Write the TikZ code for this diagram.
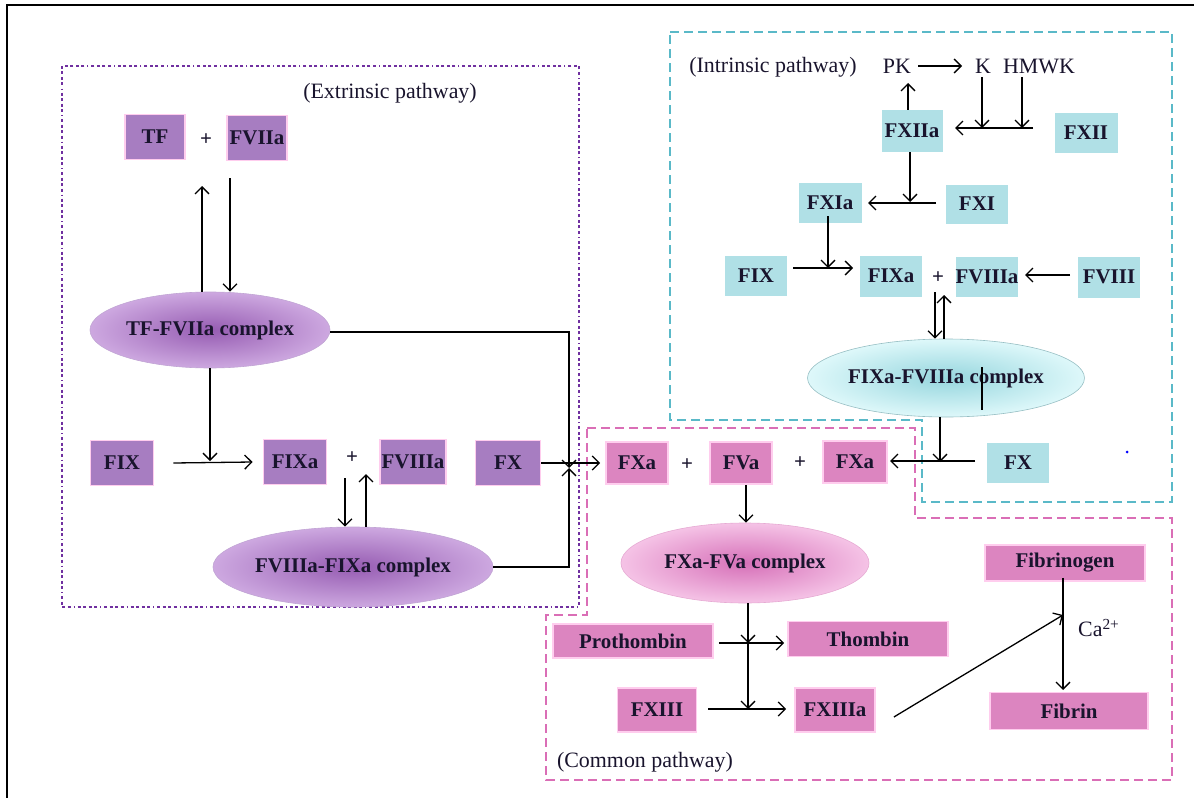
\documentclass[tikz,border=0pt]{standalone}
\usepackage{fontspec}
\setmainfont{Liberation Serif}
\usetikzlibrary{arrows.meta,shapes.geometric}
\definecolor{pfill}{RGB}{167,125,193}
\definecolor{mfill}{RGB}{220,133,192}
\definecolor{tfill}{RGB}{176,224,230}
\definecolor{glow}{RGB}{255,205,238}
\definecolor{extc}{RGB}{112,48,160}
\definecolor{intc}{RGB}{90,185,200}
\definecolor{comc}{RGB}{218,110,182}
\definecolor{txt}{RGB}{25,20,45}
\definecolor{pin}{RGB}{150,92,178}
\definecolor{pout}{RGB}{205,168,224}
\definecolor{min}{RGB}{214,112,184}
\definecolor{mout}{RGB}{245,195,230}
\definecolor{tin}{RGB}{150,214,222}
\definecolor{tout}{RGB}{222,248,250}
\tikzset{
  bx/.style={rectangle, inner sep=0pt, text=txt, font=\fontsize{21}{24}\selectfont\bfseries},
  pbox/.style={bx, fill=pfill, draw=glow, line width=1.8bp},
  mbox/.style={bx, fill=mfill, draw=glow, line width=1.8bp},
  tbox/.style={bx, fill=tfill},
  lbl/.style={inner sep=0pt, text=txt, font=\fontsize{22}{26}\selectfont},
  plus/.style={inner sep=0pt, text=txt, font=\fontsize{21}{22}\selectfont\bfseries},
  cplx/.style={ellipse, inner sep=0pt, text=txt, font=\fontsize{21}{24}\selectfont\bfseries},
  pcplx/.style={cplx, inner color=pin, outer color=pout, draw=pfill!70, line width=0.6bp},
  mcplx/.style={cplx, inner color=min, outer color=mout, draw=mfill!70, line width=0.6bp},
  tcplx/.style={cplx, inner color=tin, outer color=tout, draw=tfill!85!black, line width=0.6bp},
  conn/.style={line width=1.3bp, draw=black},
  arr/.style={conn, -{Straight Barb[length=7bp,width=14bp,line width=1.3bp]}},
  extbox/.style={draw=extc, line width=1.6bp, dash pattern=on 3bp off 2.5bp on 3bp off 2.5bp on 3bp off 2.5bp on 3bp off 3bp on 1bp off 3bp},
  intbox/.style={draw=intc, line width=1.3bp, dash pattern=on 9bp off 5bp},
  combox/.style={draw=comc, line width=1.3bp, dash pattern=on 9bp off 5bp},
}
\begin{document}
\begin{tikzpicture}[x=1bp,y=-1bp]
\useasboundingbox (0,0) rectangle (1194,798);
\draw[line width=1.5bp] (7,798) -- (7,5) -- (1194,5);

% ---------------- region outlines
\draw[extbox] (62,66) rectangle (579,607);
\draw[intbox] (670,32) -- (1172,32) -- (1172,502) -- (922,502) -- (922,420) -- (670,420) -- cycle;
\draw[combox] (587,428) -- (915,428) -- (915,518) -- (1172,518) -- (1172,780) -- (546,780) -- (546,615) -- (587,615) -- cycle;

% ---------------- extrinsic pathway
\node[lbl] (extl) at (390,93) {(Extrinsic pathway)};
\node[pbox, minimum width=60bp, minimum height=45bp] (TF) at (155,137) {TF};
\node[plus] (p1) at (206,140) {+};
\node[pbox, minimum width=60bp, minimum height=45bp] (FVIIa) at (257,138) {FVIIa};
\node[pcplx, minimum width=240bp, minimum height=76bp] (tfc) at (210,330) {TF-FVIIa complex};
\node[pbox, minimum width=63bp, minimum height=45bp] (FIX) at (122,463) {FIX};
\node[pbox, minimum width=63bp, minimum height=45bp] (FIXa) at (295,462) {FIXa};
\node[plus] (p2) at (352,458) {+};
\node[pbox, minimum width=66bp, minimum height=45bp] (FVIIIa) at (413,462) {FVIIIa};
\node[pbox, minimum width=65bp, minimum height=45bp] (FX) at (508,463) {FX};
\node[pcplx, minimum width=280bp, minimum height=80bp] (fvc) at (353,567) {FVIIIa-FIXa complex};

\coordinate (e1) at (202,186);
\coordinate (e2) at (230,178);
\coordinate (e3) at (210,461);
\coordinate (e4) at (569,468);
\coordinate (e5) at (345,478);
\coordinate (e6) at (366,474);
\draw[arr] (tfc.north -| e1) -- (e1);
\draw[arr] (e2) -- (tfc.north -| e2);
\draw[arr] (tfc.south) -- (e3);
\draw[arr] (FIX.east) ++(19,0) -- ([xshift=-10bp]FIXa.west);
\draw[arr] (e5) -- (fvc.north -| e5);
\draw[arr] (fvc.north -| e6) -- (e6);
\draw[arr] (tfc.east |- 0,332) -- (569,332) -- (e4);
\draw[arr] (fvc.east) -- (569,567) -- (e4);

% ---------------- intrinsic pathway
\node[lbl] (intl) at (773,67) {(Intrinsic pathway)};
\node[lbl] (PK) at (897,66) {PK};
\node[lbl] (K) at (983,66) {K};
\node[lbl] (HMWK) at (1039,66) {HMWK};
\node[tbox, minimum width=61bp, minimum height=42bp] (FXIIa) at (912,131) {FXIIa};
\node[tbox, minimum width=63bp, minimum height=40bp] (FXII) at (1086,133) {FXII};
\node[tbox, minimum width=63bp, minimum height=40bp] (FXIa) at (830,203) {FXIa};
\node[tbox, minimum width=62bp, minimum height=39bp] (FXI) at (977,204) {FXI};
\node[tbox, minimum width=62bp, minimum height=40bp] (FIXb) at (756,276) {FIX};
\node[tbox, minimum width=62bp, minimum height=41bp] (FIXab) at (891,276) {FIXa};
\node[plus] (p3) at (938,278) {+};
\node[tbox, minimum width=62bp, minimum height=40bp] (FVIIIab) at (987,277) {FVIIIa};
\node[tbox, minimum width=62bp, minimum height=41bp] (FVIII) at (1109,277) {FVIII};
\node[tcplx, minimum width=262bp, minimum height=78bp] (ifc) at (946,378) {FIXa-FVIIIa complex};
\node[tbox, minimum width=62bp, minimum height=40bp] (FXb) at (1018,463) {FX};
\fill[blue] (1127,452) circle (1.5bp);

\coordinate (i1) at (918,66);
\coordinate (i2) at (962,66);
\coordinate (i3) at (908,83);
\coordinate (i4) at (1033,128);
\coordinate (i5) at (955,128);
\coordinate (i6) at (982,77);
\coordinate (i7) at (1022,77);
\coordinate (i8) at (910,202);
\coordinate (i9) at (936,203);
\coordinate (i10) at (868,203);
\coordinate (i11) at (828,268);
\coordinate (i12) at (793,268);
\coordinate (i13) at (853,268);
\coordinate (i14) at (1070,275);
\coordinate (i15) at (1025,275);
\coordinate (i16) at (935,292);
\coordinate (i17) at (944,295);
\coordinate (i18) at (940,462);
\coordinate (i19) at (975,461);
\coordinate (i20) at (890,461);
\draw[arr] (i1) -- (i2);
\draw[arr] (FXIIa.north -| i3) -- (i3);
\draw[arr] (i4) -- (i5);
\draw[arr] (i6) -- (i6 |- i4);
\draw[arr] (i7) -- (i7 |- i4);
\draw[arr] (FXIIa.south -| i8) -- (i8);
\draw[arr] (i9) -- (i10);
\draw[arr] ([yshift=7bp]FXIa.south -| i11) -- (i11);
\draw[arr] (i12) -- (i13);
\draw[arr] (i14) -- (i15);
\draw[arr] (i16) -- (ifc.north -| i16);
\draw[arr] (ifc.north -| i17) -- (i17);
\draw[conn] (982,367) -- (982,410);
\draw[arr] (ifc.south -| i18) -- (i18);
\draw[arr] (i19) -- (i20);

% ---------------- common pathway
\node[mbox, minimum width=62bp, minimum height=42bp] (FXa) at (637,463) {FXa};
\node[plus] (p4) at (687,465) {+};
\node[mbox, minimum width=62bp, minimum height=42bp] (FVa) at (741,463) {FVa};
\node[plus] (p5) at (800,463) {+};
\node[mbox, minimum width=64bp, minimum height=42bp] (FXa2) at (855,462) {FXa};
\node[mcplx, minimum width=248bp, minimum height=80bp] (cc) at (745,563) {FXa-FVa complex};
\node[mbox, minimum width=160bp, minimum height=34bp] (Pro) at (633,641) {Prothombin};
\node[mbox, minimum width=160bp, minimum height=35bp] (Thr) at (868,639) {Thombin};
\node[mbox, minimum width=79bp, minimum height=44bp] (FXIII) at (657,710) {FXIII};
\node[mbox, minimum width=80bp, minimum height=44bp] (FXIIIa) at (835,710) {FXIIIa};
\node[mbox, minimum width=160bp, minimum height=36bp] (Fbg) at (1065,563) {Fibrinogen};
\node[mbox, minimum width=158bp, minimum height=37bp] (Fbn) at (1069,711) {Fibrin};
\node[lbl, anchor=west] (ca) at (1078,628) {Ca\textsuperscript{2+}};
\node[lbl] (coml) at (645,762) {(Common pathway)};

\coordinate (c1) at (748,643);
\coordinate (c2) at (748,709);
\coordinate (c3) at (1063,615);
\coordinate (c4) at (1063,690);
\draw[arr] (FX.east) -- ([xshift=-5bp]FXa.west);
\draw[arr] (FVa.south -| 746,0) -- (cc.north -| 746,0);
\draw[arr] (cc.south -| c1) -- (c1);
\draw[arr] (c1) -- (c2);
\draw[arr] ([xshift=5bp]Pro.east |- c1) -- ([xshift=-3bp]Thr.west |- c1);
\draw[arr] ([xshift=11bp]FXIII.east |- c2) -- ([xshift=-8bp]FXIIIa.west |- c2);
\draw[arr] ([xshift=18bp,yshift=-7bp]FXIIIa.east) -- (c3);
\draw[arr] ([yshift=4bp]Fbg.south -| c4) -- (c4);
\end{tikzpicture}
\end{document}
